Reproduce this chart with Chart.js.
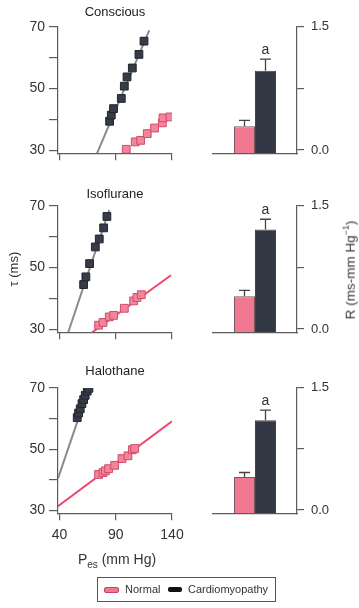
<!DOCTYPE html>
<html>
<head>
<meta charset="utf-8">
<script src="https://cdn.jsdelivr.net/npm/chart.js@4/dist/chart.umd.min.js"></script>
<style>
  html, body { margin:0; padding:0; background:#fff; overflow:hidden; }
  #wrap { position:relative; width:359px; height:608px; font-family:'Liberation Sans', Arial, sans-serif; color:#333; }
  canvas { position:absolute; left:0; top:0; }
  .txt { position:absolute; white-space:nowrap; }
</style>
</head>
<body>
<div id="wrap">
  <canvas id="s0" width="359" height="608"></canvas>
  <canvas id="s1" width="359" height="608"></canvas>
  <canvas id="s2" width="359" height="608"></canvas>
  <canvas id="b0" width="359" height="608"></canvas>
  <canvas id="b1" width="359" height="608"></canvas>
  <canvas id="b2" width="359" height="608"></canvas>
  <div class="txt" id="rlab" style="left:349px; top:270px; font-size:13.5px; transform:translate(-50%,-50%) rotate(-90deg);">R (ms-mm Hg<sup style="font-size:9px;">−1</sup>)</div>
  <div class="txt" id="xlab" style="left:117px; top:551px; font-size:14px; transform:translateX(-50%);">P<sub style="font-size:10px;">es</sub> (mm Hg)</div>
  <div id="legend" style="position:absolute; left:97px; top:577px; width:177px; height:23px; border:1px solid #555;">
    <span style="position:absolute; left:6px; top:9px; width:13px; height:4px; background:#f07890; border:1px solid #c04560; border-radius:2px;"></span>
    <span class="txt" style="left:27px; top:5px; font-size:11px;">Normal</span>
    <span style="position:absolute; left:70px; top:9px; width:14px; height:5px; background:#111; border-radius:2px;"></span>
    <span class="txt" style="left:90px; top:5px; font-size:11px;">Cardiomyopathy</span>
  </div>
</div>
<script>
// ---------- DATA ----------
const conditions = ['Conscious', 'Isoflurane', 'Halothane'];
const seriesNames = ['Normal', 'Cardiomyopathy'];

// Pes (mm Hg) and tau (ms) scatter values
const cardioPesConscious = [84.5, 86.0, 88.0, 94.9, 97.6, 100.0, 104.7, 110.6, 115.1];
const cardioTauConscious = [39.4, 41.4, 43.5, 46.8, 50.8, 53.8, 56.7, 61.1, 65.4];
const normalPesConscious = [99.3, 107.3, 112.1, 118.0, 124.5, 131.4, 132.0, 138.2];
const normalTauConscious = [30.3, 32.7, 33.2, 35.4, 37.2, 38.9, 40.5, 40.8];

const cardioPesIso = [61.4, 63.4, 66.7, 71.8, 75.3, 79.2, 82.1];
const cardioTauIso = [44.5, 47.0, 51.3, 56.7, 59.3, 62.9, 66.6];
const normalPesIso = [74.7, 78.6, 84.2, 88.1, 97.6, 105.9, 108.8, 112.7];
const normalTauIso = [31.3, 32.2, 34.0, 34.5, 36.8, 39.2, 40.3, 41.2];

const cardioPesHal = [55.7, 56.9, 58.4, 59.9, 61.4, 62.8, 64.6, 66.1];
const cardioTauHal = [60.3, 61.8, 63.2, 64.9, 66.2, 67.6, 69.0, 69.9];
const normalPesHal = [74.7, 78.6, 80.7, 83.6, 89.0, 95.5, 100.8, 104.7, 106.8];
const normalTauHal = [41.7, 42.3, 42.9, 43.6, 44.7, 46.9, 47.8, 49.8, 50.2];

// regression line end points (Pes, tau)
const cardioFitPesConscious = [73.3, 119.8];
const cardioFitTauConscious = [29.0, 68.9];
const cardioFitPesIso = [47.4, 84.2];
const cardioFitTauIso = [28.7, 68.7];
const normalFitPesIso = [67.9, 139.1];
const normalFitTauIso = [28.7, 47.5];
const cardioFitPesHal = [38.6, 66.5];
const cardioFitTauHal = [40.4, 70.5];
const normalFitPesHal = [38.6, 140.0];
const normalFitTauHal = [31.3, 59.1];

// R (ms/mm Hg) bars, per condition
const normalR = [0.29, 0.40, 0.405];
const normalRErr = [0.07, 0.07, 0.055];
const cardioR = [0.965, 1.21, 1.10];
const cardioRErr = [0.14, 0.125, 0.125];
const sigLabels = ['a', 'a', 'a'];

// tick labels
const tauTicks = [30, 40, 50, 60, 70];
const tauLabelled = [30, 50, 70];
const pesTicks = [40, 90, 140];
const rTicks = [0, 0.75, 1.5];
const rLabelled = [0, 1.5];

// ---------- STYLE / LAYOUT ----------
const PINK = '#f07890', PINK_PT = '#f4849a', PINK_EDGE = '#cf4d6b', PINK_LINE = '#f0456a';
const DARK = '#323744', DARK_PT = '#363b47', GRAY_LINE = '#8a8a8a';
const AXIS = '#5c5c5c';
Chart.defaults.font.family = "'Liberation Sans', Arial, sans-serif";
Chart.defaults.color = '#333';
Chart.defaults.animation = false;

const rows = [{top: 27, bottom: 153.3}, {top: 206, bottom: 332.3}, {top: 388, bottom: 513.3}];
const titleCenters = [12, 194, 371.5];

const pts = (xs, ys) => xs.map((x, i) => ({x: x, y: ys[i]}));

const scatterSets = [
  {cp: cardioPesConscious, ct: cardioTauConscious, np: normalPesConscious, nt: normalTauConscious,
   cfp: cardioFitPesConscious, cft: cardioFitTauConscious, nfp: null, nft: null},
  {cp: cardioPesIso, ct: cardioTauIso, np: normalPesIso, nt: normalTauIso,
   cfp: cardioFitPesIso, cft: cardioFitTauIso, nfp: normalFitPesIso, nft: normalFitTauIso},
  {cp: cardioPesHal, ct: cardioTauHal, np: normalPesHal, nt: normalTauHal,
   cfp: cardioFitPesHal, cft: cardioFitTauHal, nfp: normalFitPesHal, nft: normalFitTauHal}
];

scatterSets.forEach((s, r) => {
  const row = rows[r];
  const xh = r === 2 ? 35 : 17;
  const lineH = 13 * 1.2;
  const padTop = titleCenters[r] - lineH / 2;
  const datasets = [
    {label: seriesNames[1], data: pts(s.cp, s.ct), pointStyle: 'rect', pointRadius: 5.5,
     backgroundColor: DARK_PT, borderColor: '#22262f', borderWidth: 1, showLine: false, order: 1},
    {label: seriesNames[0], data: pts(s.np, s.nt), pointStyle: 'rect', pointRadius: 5.5,
     backgroundColor: PINK_PT, borderColor: PINK_EDGE, borderWidth: 1, showLine: false, order: 1},
    {label: seriesNames[1] + ' fit', data: pts(s.cfp, s.cft), showLine: true, pointRadius: 0,
     borderColor: GRAY_LINE, borderWidth: 2, order: 2}
  ];
  if (s.nfp) datasets.push({label: seriesNames[0] + ' fit', data: pts(s.nfp, s.nft), showLine: true,
     pointRadius: 0, borderColor: PINK_LINE, borderWidth: 2, order: 2});
  new Chart(document.getElementById('s' + r), {
    type: 'scatter',
    data: {datasets: datasets},
    options: {
      responsive: false, devicePixelRatio: 1, events: [],
      layout: {padding: {left: 0, right: 359 - 172, top: padTop, bottom: 608 - row.bottom - xh}},
      plugins: {
        legend: {display: false}, tooltip: {enabled: false},
        title: {display: true, text: conditions[r], fullSize: false, color: '#222',
                font: {size: 13, weight: 'normal'}, padding: {top: 0, bottom: row.top - padTop - lineH}}
      },
      scales: {
        x: {type: 'linear', min: 38.6, max: 140,
            afterBuildTicks: a => { a.ticks = pesTicks.map(v => ({value: v})); },
            afterFit: a => { a.height = xh; },
            grid: {drawOnChartArea: false, drawTicks: true, tickLength: 7, color: AXIS, lineWidth: 1.2},
            border: {display: true, color: AXIS, width: 1.2},
            ticks: {display: r === 2, padding: 6, font: {size: 14}, color: '#333', autoSkip: false, maxRotation: 0}},
        y: {type: 'linear', min: 29, max: 70,
            afterBuildTicks: a => { a.ticks = tauTicks.map(v => ({value: v})); },
            afterFit: a => { a.width = 58; },
            grid: {drawOnChartArea: false, drawTicks: true, tickLength: 9, color: AXIS, lineWidth: 1.2},
            border: {display: true, color: AXIS, width: 1.2},
            ticks: {padding: 4, font: {size: 14}, color: '#333', autoSkip: false,
                    callback: v => tauLabelled.includes(v) ? String(v) : ''},
            title: {display: r === 1, text: 'τ (ms)', font: {size: 13}, color: '#333', padding: {top: 6.2, bottom: 0}}}
      }
    }
  });
});

const errorBarPlugin = {
  id: 'errorBars',
  afterDatasetsDraw(chart) {
    const {ctx} = chart;
    const y = chart.scales.y;
    chart.data.datasets.forEach((ds, di) => {
      const meta = chart.getDatasetMeta(di);
      meta.data.forEach((bar, i) => {
        const top = y.getPixelForValue(ds.data[i] + ds.errors[i]);
        ctx.save();
        ctx.strokeStyle = '#444';
        ctx.lineWidth = 1.3;
        ctx.beginPath();
        ctx.moveTo(bar.x, bar.y);
        ctx.lineTo(bar.x, top);
        ctx.moveTo(bar.x - 5.5, top);
        ctx.lineTo(bar.x + 5.5, top);
        ctx.stroke();
        if (ds.sig && ds.sig[i]) {
          ctx.fillStyle = '#333';
          ctx.font = "14px 'Liberation Sans', Arial, sans-serif";
          ctx.textAlign = 'center';
          ctx.textBaseline = 'middle';
          ctx.fillText(ds.sig[i], bar.x, top - 9);
        }
        ctx.restore();
      });
    });
  }
};

conditions.forEach((cond, r) => {
  const row = rows[r];
  new Chart(document.getElementById('b' + r), {
    type: 'bar',
    data: {
      labels: [cond],
      datasets: [
        {label: seriesNames[0], data: [normalR[r]], errors: [normalRErr[r]], base: -0.04,
         backgroundColor: PINK, borderColor: '#7a5560', borderWidth: 1,
         categoryPercentage: 0.5, barPercentage: 1.0},
        {label: seriesNames[1], data: [cardioR[r]], errors: [cardioRErr[r]], sig: [sigLabels[r]], base: -0.04,
         backgroundColor: DARK, borderColor: '#444', borderWidth: 1,
         categoryPercentage: 0.5, barPercentage: 1.0}
      ]
    },
    options: {
      responsive: false, devicePixelRatio: 1, events: [],
      layout: {padding: {left: 213, right: 359 - 297 - 40, top: row.top - 0.3, bottom: 608 - row.bottom - 5}},
      plugins: {legend: {display: false}, tooltip: {enabled: false}},
      scales: {
        x: {type: 'category', afterFit: a => { a.height = 5; },
            grid: {display: false}, border: {display: true, color: AXIS, width: 1.2},
            ticks: {display: false}},
        y: {type: 'linear', position: 'right', min: -0.04, max: 1.5,
            afterBuildTicks: a => { a.ticks = rTicks.map(v => ({value: v})); },
            afterFit: a => { a.width = 40; },
            grid: {drawOnChartArea: false, drawTicks: true, tickLength: 7, color: AXIS, lineWidth: 1.2},
            border: {display: true, color: AXIS, width: 1.2},
            ticks: {padding: 7, font: {size: 13}, color: '#333', autoSkip: false,
                    callback: v => rLabelled.includes(v) ? v.toFixed(1) : ''}}
      }
    },
    plugins: [errorBarPlugin]
  });
});
</script>
</body>
</html>
